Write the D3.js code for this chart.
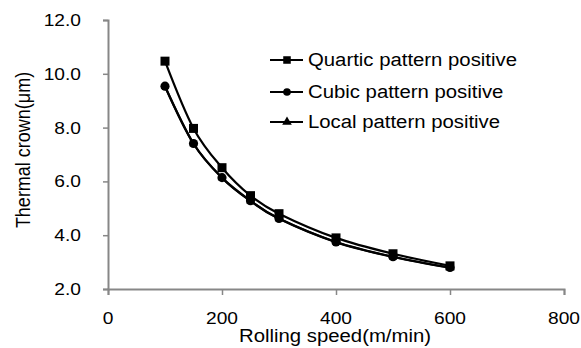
<!DOCTYPE html>
<html>
<head>
<meta charset="utf-8">
<script src="https://cdn.jsdelivr.net/npm/d3@7"></script>
<style>
  body { margin: 0; background: #fff; }
  text { font-family: "Liberation Sans", Arial, sans-serif; fill: #000; }
</style>
</head>
<body>
<div id="chart"></div>
<script>
// data
const speeds = [100, 150, 200, 250, 300, 400, 500, 600];
const quartic = [10.47, 7.97, 6.51, 5.47, 4.80, 3.90, 3.31, 2.86];
const cubic = [9.54, 7.41, 6.14, 5.28, 4.62, 3.75, 3.20, 2.80];
const local = [9.53, 7.40, 6.13, 5.27, 4.61, 3.74, 3.19, 2.79];
const seriesNames = ['Quartic pattern positive', 'Cubic pattern positive', 'Local pattern positive'];
const xTicks = [0, 200, 400, 600, 800];
const yTicks = [2, 4, 6, 8, 10, 12];

const width = 581, height = 348;
const stretch = 1.13; // the glyphs in the picture are a little wider than Arial

const svg = d3.select('#chart').append('svg')
    .attr('width', width)
    .attr('height', height);

const x = d3.scaleLinear().domain([0, 800]).range([108, 564]);
const y = d3.scaleLinear().domain([2, 12]).range([289, 20]);

const axisColor = '#878787';

// axes
const xAxis = svg.append('g')
    .attr('transform', `translate(0,${y(2)})`)
    .call(d3.axisBottom(x).tickValues(xTicks).tickSize(6).tickFormat(''));
const yAxis = svg.append('g')
    .attr('transform', `translate(${x(0)},0)`)
    .call(d3.axisLeft(y).tickValues(yTicks).tickSize(5).tickFormat(''));

[xAxis, yAxis].forEach(a => {
    a.select('.domain').attr('stroke', axisColor).attr('stroke-width', 2);
    a.selectAll('.tick line').attr('stroke', axisColor).attr('stroke-width', 1.5);
});

const label = (tx, ty, str, size, anchor, extra = '') => svg.append('text')
    .attr('transform', `translate(${tx},${ty}) scale(${stretch},1)${extra}`)
    .attr('text-anchor', anchor)
    .attr('dy', '0.35em')
    .style('font-size', size + 'px')
    .text(str);

xTicks.forEach(t => label(x(t), 318.5, t, 17, 'middle'));
yTicks.forEach(t => label(81, y(t), t.toFixed(1), 17, 'end'));

label(335, 336, 'Rolling speed(m/min)', 18, 'middle');
label(23, 150, 'Thermal crown(μm)', 18, 'middle', ' rotate(-90)');

// series
const series = [
    { name: seriesNames[0], values: quartic, symbol: d3.symbolSquare, size: 81 },
    { name: seriesNames[1], values: cubic, symbol: d3.symbolCircle, size: 66 },
    { name: seriesNames[2], values: local, symbol: d3.symbolTriangle, size: 30 }
];

const line = d3.line()
    .x((d, i) => x(speeds[i]))
    .y(d => y(d))
    .curve(d3.curveCatmullRom.alpha(0));

// drawn last-to-first so the circles sit over the triangles, as in the picture
const groups = svg.selectAll('.series')
    .data(series.slice().reverse())
    .join('g')
    .attr('class', 'series');

groups.append('path')
    .attr('d', d => line(d.values))
    .attr('fill', 'none')
    .attr('stroke', '#000')
    .attr('stroke-width', 2.2);

groups.each(function (s) {
    d3.select(this).selectAll('path.mark')
        .data(s.values)
        .join('path')
        .attr('class', 'mark')
        .attr('d', d3.symbol().type(s.symbol).size(s.size))
        .attr('transform', (d, i) => `translate(${x(speeds[i])},${y(d)})`)
        .attr('fill', '#000');
});

// legend
const legendY = [60, 92, 122];
const legend = svg.selectAll('.legend')
    .data(series)
    .join('g')
    .attr('class', 'legend')
    .attr('transform', (d, i) => `translate(270,${legendY[i]})`);

legend.append('line')
    .attr('x1', 0).attr('x2', 33)
    .attr('stroke', '#000').attr('stroke-width', 2.2);
legend.append('path')
    .attr('d', (d, i) => d3.symbol().type(d.symbol).size(i === 2 ? 40 : d.size * 0.7)())
    .attr('transform', 'translate(17,0)');
legend.each(function (d, i) {
    d3.select(this).append('text')
        .attr('transform', `translate(38,0) scale(${stretch},1)`)
        .attr('dy', '0.35em')
        .style('font-size', '18px')
        .text(d.name);
});
</script>
</body>
</html>
